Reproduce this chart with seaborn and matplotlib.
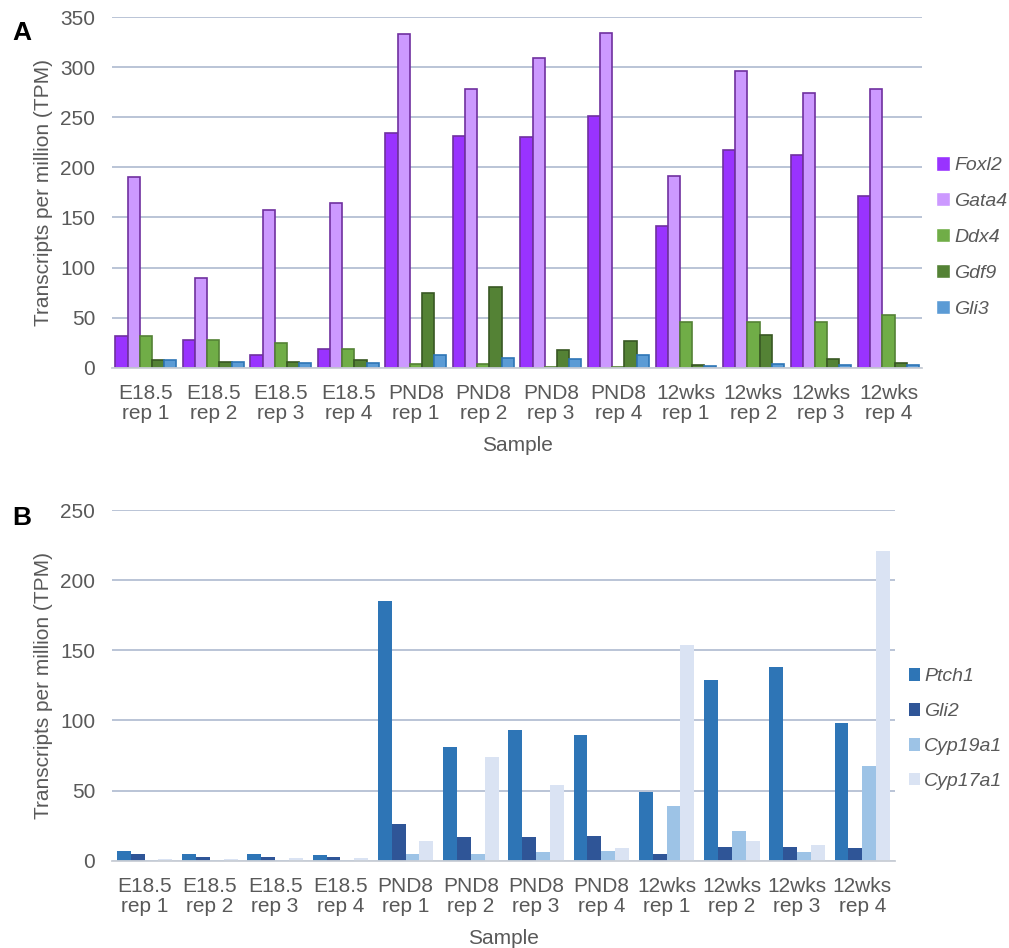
import pandas as pd
import numpy as np
import matplotlib.pyplot as plt
import seaborn as sns

sns.set_theme(style="white")
plt.rcParams["font.family"] = ["Liberation Sans", "DejaVu Sans"]

TEXT = "#595959"
GRID = "#B4BFD3"

samples = ["E18.5\nrep 1", "E18.5\nrep 2", "E18.5\nrep 3", "E18.5\nrep 4",
           "PND8\nrep 1", "PND8\nrep 2", "PND8\nrep 3", "PND8\nrep 4",
           "12wks\nrep 1", "12wks\nrep 2", "12wks\nrep 3", "12wks\nrep 4"]

# panel A
genes_a = ["Foxl2", "Gata4", "Ddx4", "Gdf9", "Gli3"]
foxl2 = [32, 28, 13, 19, 234, 231, 230, 251, 142, 217, 212, 171]
gata4 = [190, 90, 157, 164, 333, 278, 309, 334, 191, 296, 274, 278]
ddx4  = [32, 28, 25, 19, 4, 4, 1, 1, 46, 46, 46, 53]
gdf9  = [8, 6, 6, 8, 75, 81, 18, 27, 3, 33, 9, 5]
gli3  = [8, 6, 5, 5, 13, 10, 9, 13, 2, 4, 3, 3]
colors_a = ["#9933FF", "#CC99FF", "#70AD47", "#548235", "#5B9BD5"]
edges_a  = ["#7030A0", "#7030A0", "#548235", "#385723", "#2E75B6"]

# panel B
genes_b = ["Ptch1", "Gli2", "Cyp19a1", "Cyp17a1"]
ptch1   = [7.3, 4.5, 4.5, 3.8, 185, 81, 93, 90, 49, 129, 138, 98]
gli2    = [4.5, 2.6, 3, 3, 26, 17, 17, 18, 5, 10, 10, 9.3]
cyp19a1 = [0.5, 0.3, 0.3, 0.3, 5, 4.5, 6.5, 7, 39, 21.5, 6, 67.5]
cyp17a1 = [1.5, 1.5, 2, 2, 14, 74, 54, 9, 154, 14, 11, 221]
colors_b = ["#2E75B6", "#2F5597", "#9DC3E6", "#DAE3F3"]

df_a = pd.DataFrame({"Sample": samples * 5,
                     "Gene": np.repeat(genes_a, 12),
                     "TPM": foxl2 + gata4 + ddx4 + gdf9 + gli3})
df_b = pd.DataFrame({"Sample": samples * 4,
                     "Gene": np.repeat(genes_b, 12),
                     "TPM": ptch1 + gli2 + cyp19a1 + cyp17a1})

fig = plt.figure(figsize=(10.09, 9.48), dpi=100)
axA = fig.add_axes([0.111, 0.612, 0.803, 0.370])
axB = fig.add_axes([0.111, 0.092, 0.776, 0.370])


def style_axis(ax, ymax, step):
    ax.set_ylim(0, ymax)
    ax.set_yticks(np.arange(0, ymax + 1, step))
    ax.set_xlim(-0.5, 11.5)
    ax.yaxis.grid(True, color=GRID, linewidth=1.3)
    ax.set_axisbelow(True)
    for s in ["top", "right", "left"]:
        ax.spines[s].set_visible(False)
    ax.spines["bottom"].set_color("#C9CED6")
    ax.spines["bottom"].set_linewidth(1.3)
    ax.tick_params(axis="both", length=0, labelsize=15, colors=TEXT)
    ax.tick_params(axis="x", pad=12)
    ax.tick_params(axis="y", pad=12)
    ax.set_xlabel("Sample", fontsize=15, color=TEXT, labelpad=9)
    ax.set_ylabel("Transcripts per million (TPM)", fontsize=15, color=TEXT, labelpad=5)
    for t in ax.get_xticklabels():
        t.set_linespacing(1.05)


sns.barplot(data=df_a, x="Sample", y="TPM", hue="Gene", palette=colors_a,
            width=0.9, ax=axA, saturation=1)
for cont, ec in zip(axA.containers, edges_a):
    for bar in cont:
        bar.set_edgecolor(ec)
        bar.set_linewidth(1.2)
style_axis(axA, 350, 50)
axA.legend(loc="center left", bbox_to_anchor=(1.0, 0.373), frameon=False,
           prop={"style": "italic", "size": 14}, labelcolor=TEXT,
           handlelength=0.75, handleheight=0.75, handletextpad=0.2,
           labelspacing=0.92, borderaxespad=0.3)

sns.barplot(data=df_b, x="Sample", y="TPM", hue="Gene", palette=colors_b,
            width=0.85, ax=axB, saturation=1, linewidth=0)
style_axis(axB, 250, 50)
axB.legend(loc="center left", bbox_to_anchor=(1.0, 0.375), frameon=False,
           prop={"style": "italic", "size": 14}, labelcolor=TEXT,
           handlelength=0.6, handleheight=0.6, handletextpad=0.2,
           labelspacing=0.92, borderaxespad=0.3)

fig.text(0.012, 0.958, "A", fontsize=19, fontweight="bold", color="black")
fig.text(0.012, 0.446, "B", fontsize=19, fontweight="bold", color="black")

fig.savefig("out.png", dpi=100)
